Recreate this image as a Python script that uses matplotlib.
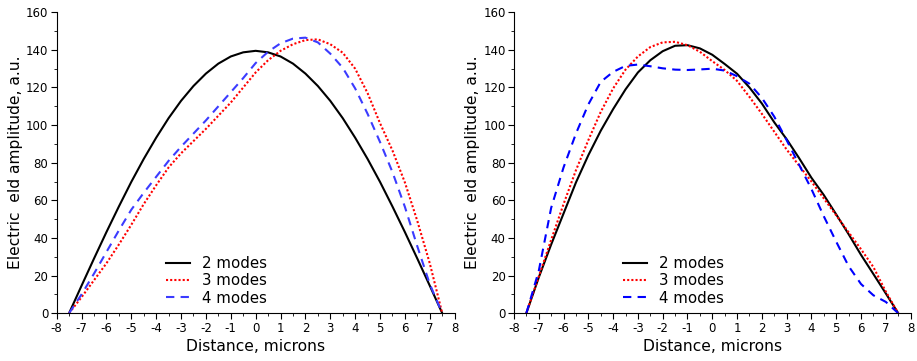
import numpy as np
import matplotlib
matplotlib.use('Agg')
import matplotlib.pyplot as plt
from matplotlib.ticker import MultipleLocator

plt.rcParams['axes.unicode_minus'] = False

# positions along the waveguide, microns
x = np.arange(-7.5, 7.51, 0.5)

# left panel
left_2modes = [0, 14.6, 29, 43.1, 56.7, 69.8, 82, 93.3, 103.7, 112.9, 120.8, 127.4, 132.7, 136.5, 138.7,
               139.5, 138.7, 136.5, 132.7, 127.4, 120.8, 112.9, 103.7, 93.3, 82, 69.8, 56.7, 43.1, 29, 14.6, 0]
left_3modes = [0, 8.5, 17.5, 26.5, 36.5, 47, 58, 68, 77.5, 85, 91.5, 98, 105, 112, 120,
               128, 134.5, 139.5, 143, 145.2, 145.6, 143, 138.5, 130, 117, 101, 86.5, 69.5, 49, 26.5, 0]
left_4modes = [0, 10, 21, 32.5, 44, 55, 64, 72.5, 81, 88.5, 95.5, 102.5, 110, 117.5, 125,
               133, 139, 143.5, 146, 146.5, 144, 138, 130.5, 119.5, 106, 91, 75, 56.5, 35.5, 15.5, 0]

# right panel
right_2modes = [0, 19, 36.5, 53, 69.5, 84, 97, 108.5, 119, 128, 134.5, 139.3, 142.2, 142.5, 140.8,
                137.4, 132.5, 127.3, 120, 111.5, 101.5, 92.5, 82.5, 72, 62.8, 52.5, 42, 31, 20.8, 10.5, 0]
right_3modes = [0, 19.5, 39, 58, 76, 92, 107, 119.5, 129.5, 136.5, 141.5, 144, 144.3, 142.5, 139,
                134, 129.3, 123.5, 115, 106, 96.5, 87, 78.5, 70, 61, 52, 43, 34, 24.5, 11.5, 0]
right_4modes = [0, 22.5, 56, 77.5, 95.5, 111, 123, 128.3, 131.5, 132.2, 131.3, 130.2, 129.5, 129.3, 129.6,
                130, 129, 126, 122, 114.5, 104.5, 92, 79, 66, 51.5, 38, 25, 15.5, 9.5, 6, 0]

labels = ['2 modes', '3 modes', '4 modes']

fig = plt.figure(figsize=(9.17, 3.61), dpi=100)
ax1 = fig.add_axes([0.0618, 0.1325, 0.434, 0.8335])
ax2 = fig.add_axes([0.5605, 0.1325, 0.4325, 0.8335])

def draw(ax, y2, y3, y4, blue):
    ax.plot(x, y2, color='black', lw=1.5, label=labels[0])
    ax.plot(x, y3, color='red', lw=1.5, linestyle=(0, (1, 1)), label=labels[1])
    ax.plot(x, y4, color=blue, lw=1.5, linestyle=(0, (4, 3)), label=labels[2])
    ax.set_xlim(-8, 8)
    ax.set_ylim(0, 160)
    ax.xaxis.set_major_locator(MultipleLocator(1))
    ax.xaxis.set_minor_locator(MultipleLocator(0.5))
    ax.yaxis.set_major_locator(MultipleLocator(20))
    ax.yaxis.set_minor_locator(MultipleLocator(10))
    ax.spines['top'].set_visible(False)
    ax.spines['right'].set_visible(False)
    ax.tick_params(which='major', direction='out', length=4, labelsize=8.5, pad=2)
    ax.tick_params(which='minor', direction='out', length=2)
    ax.set_xlabel('Distance, microns', fontsize=11.2, labelpad=3)
    ax.set_ylabel('Electric  eld amplitude, a.u.', fontsize=11.2, labelpad=2)
    ax.legend(loc='lower left', bbox_to_anchor=(0.24, -0.02), frameon=False, fontsize=10.8,
              labelspacing=0.15, handlelength=1.6, handletextpad=0.8)

draw(ax1, left_2modes, left_3modes, left_4modes, '#3b3bff')
draw(ax2, right_2modes, right_3modes, right_4modes, '#0000ff')

plt.savefig('out.png', dpi=100)
